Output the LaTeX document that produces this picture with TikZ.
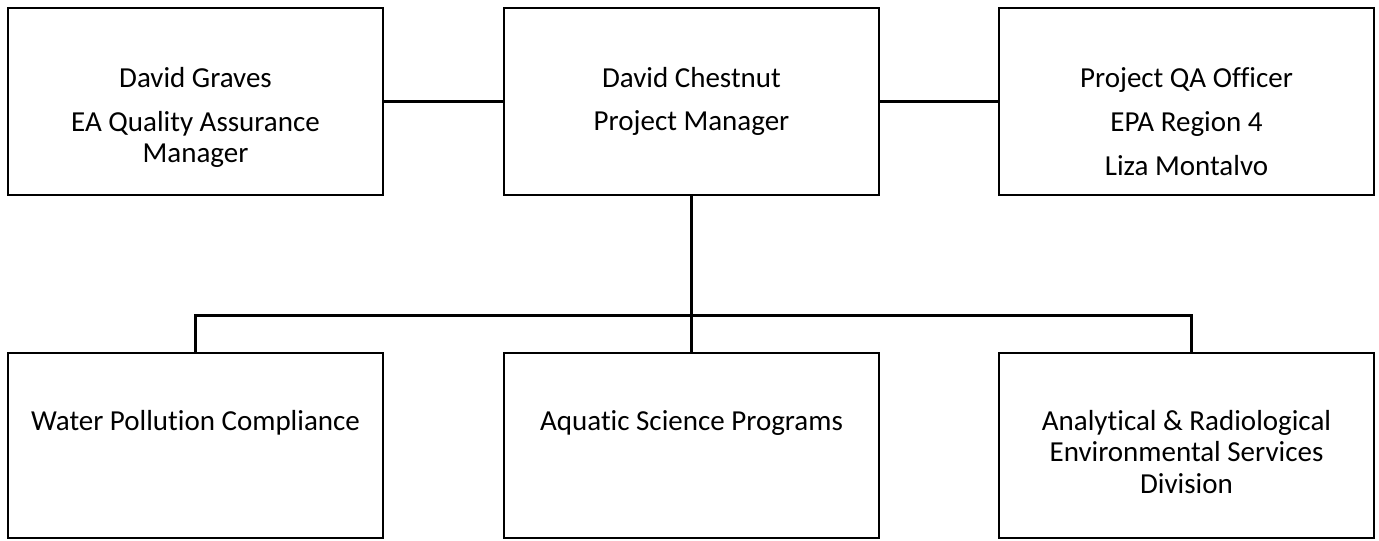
\documentclass[tikz,border=0pt]{standalone}
\usepackage{fontspec}
\setmainfont{Carlito}[Ligatures=NoCommon]
\tikzset{every picture/.style={line width=1.5pt}}
\tikzset{
  box/.style={draw, rectangle, minimum width=281.25pt, minimum height=140.25pt, inner sep=0pt},
  lowbox/.style={box, minimum height=138.75pt},
  label/.style={anchor=base, inner sep=0.75pt, font=\fontsize{21.75}{26}\selectfont},
  link/.style={line width=2.25pt}
}
\begin{document}
\begin{tikzpicture}[x=0.75pt,y=0.75pt,yscale=-1,xscale=1]
\useasboundingbox (0,0) rectangle (1379,540);

%Boxes, top row
\node[box] (graves) at (195.5,101.5) {};
\node[box] (chestnut) at (691.5,101.5) {};
\node[box] (qaofficer) at (1186.5,101.5) {};
%Boxes, bottom row
\node[lowbox] (water) at (195.5,445.5) {};
\node[lowbox] (aquatic) at (691.5,445.5) {};
\node[lowbox] (ares) at (1186.5,445.5) {};

%Connectors
\draw[link] (graves.east) -- (chestnut.west);
\draw[link] (chestnut.east) -- (qaofficer.west);
\draw[link] (chestnut.south) -- (aquatic.north);
\draw[link] (water.north) -- ++(0,-37) -| ([xshift=4pt]ares.north);

% Text Node
\node[label] (graves1) at (195.5,87) {David Graves};
\node[label] (graves2) at (195.5,131) {EA Quality Assurance};
\node[label] (graves3) at (195.5,162.5) {Manager};
% Text Node
\node[label] (chestnut1) at (691.5,87) {David Chestnut};
\node[label] (chestnut2) at (691.5,130.5) {Project Manager};
% Text Node
\node[label] (qaofficer1) at (1186.5,87) {Project QA Officer};
\node[label] (qaofficer2) at (1186.5,131) {EPA Region 4};
\node[label] (qaofficer3) at (1186.5,175) {Liza Montalvo};
% Text Node
\node[label] (water1) at (195.5,430.5) {Water Pollution Compliance};
\node[label] (aquatic1) at (691.5,430.5) {Aquatic Science Programs};
% Text Node
\node[label] (ares1) at (1186.5,430) {Analytical \& Radiological};
\node[label] (ares2) at (1186.5,461.5) {Environmental Services};
\node[label] (ares3) at (1186.5,493) {Division};

\end{tikzpicture}
\end{document}
